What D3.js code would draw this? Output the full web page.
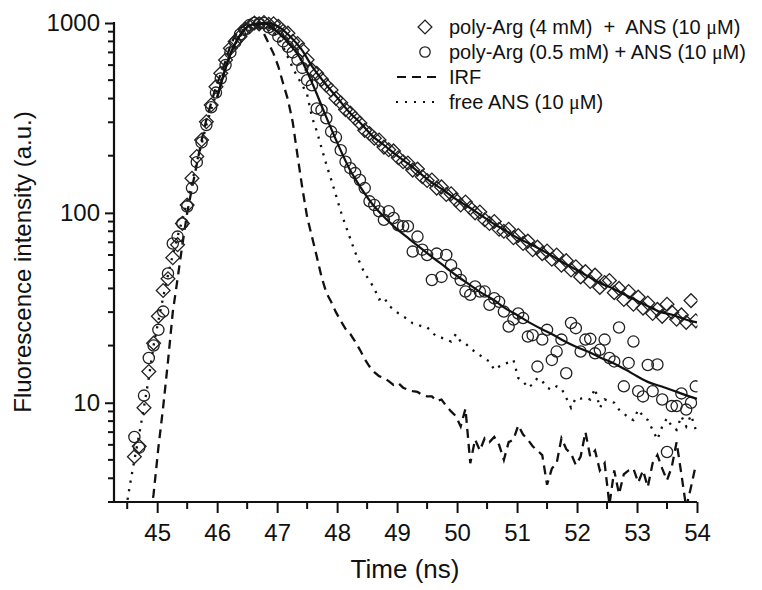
<!DOCTYPE html>
<html><head><meta charset="utf-8">
<script src="https://cdn.jsdelivr.net/npm/d3@7"></script>
<style>body{margin:0;background:#fff}svg{display:block}text{font-family:"Liberation Sans",Arial,sans-serif;fill:#111}</style>
</head><body><svg id="c" width="762" height="590"></svg>
<script>
// channel times (ns)
const timeNs = [44.46,44.54,44.62,44.70,44.78,44.86,44.94,45.02,45.10,45.18,45.26,45.34,45.42,45.50,45.58,45.66,45.74,45.82,45.90,45.98,
46.06,46.14,46.22,46.30,46.38,46.46,46.54,46.62,46.70,46.78,46.86,46.94,47.02,47.10,47.18,47.26,47.34,47.42,47.50,47.58,
47.66,47.74,47.82,47.90,47.98,48.06,48.14,48.22,48.30,48.38,48.46,48.54,48.62,48.70,48.78,48.86,48.94,49.02,49.10,49.18,
49.26,49.34,49.42,49.50,49.58,49.66,49.74,49.82,49.90,49.98,50.06,50.14,50.22,50.30,50.38,50.46,50.54,50.62,50.70,50.78,
50.86,50.94,51.02,51.10,51.18,51.26,51.34,51.42,51.50,51.58,51.66,51.74,51.82,51.90,51.98,52.06,52.14,52.22,52.30,52.38,
52.46,52.54,52.62,52.70,52.78,52.86,52.94,53.02,53.10,53.18,53.26,53.34,53.42,53.50,53.58,53.66,53.74,53.82,53.90,53.98];

// poly-Arg (4 mM) + ANS : diamonds
const polyArg4 = [null,null,5.2,5.9,9.4,14.6,20.6,28.5,39,45,58,68,88,110,152,198,242,302,370,462,
543,638,736,800,848,930,956,1000,990,1005,985,990,960,905,884,800,780,720,640,566,
543,505,470,444,401,380,350,335,315,297,272,262,247,242,222,215,212,195,186,183,
168,170,155,148,149,135,137,125,126,117,110,114,106,100,101,92,88,90,82,80,
82,74,76,69,71,64,66,61,63,57,60,53,56,50,52,46,49,43.5,47,40.5,
43,44,38,40,35,38.5,33,36,31.5,33.5,29.5,31,28.5,33,30,27.5,29,26.5,34.5,27];

// poly-Arg (0.5 mM) + ANS : circles
const polyArg05 = [null,null,6.6,5.8,10.9,17.2,20,24.2,30.2,48,69,75,88,108,135,185,235,290,360,430,
510,600,700,790,870,920,975,1000,995,1000,950,920,850,800,750,700,640,580,500,470,
355,348,315,268,250,214,186,172,162,149,135,115,110,102,92,102,94,86,85,85,
62.5,75,64,60,44.3,61,46,60,53,48,44.3,38.5,37,41,38.5,38.5,32.8,35.5,34,30.2,
25.2,27.4,29.5,27.9,22.3,22.7,15.5,21.5,24.2,16.8,18.6,21.5,14.3,26.3,24.7,18.6,21.5,21.7,18.2,19.0,
21.5,17.2,16.5,24.9,12.2,16.2,21,11.5,10.8,15.8,11.5,15.9,10.4,5.5,9.6,9.6,11.2,9.2,10,12.2];

// instrument response function (dashed)
const irf = [null,null,null,null,null,2.2,3.3,5.8,9.5,16.5,30,45,68,100,135,180,240,310,380,460,
540,630,760,860,935,975,1000,990,950,880,780,690,590,480,395,300,200,135,95,75,
59,46,38,34,30,27,24.5,23,21,19,17,15.5,14.5,13.8,13.5,13.0,12.4,12.7,12.0,11.7,
11.5,11.4,11.0,10.8,10.8,10.2,10.4,9.6,9.0,8.5,7.5,9.3,4.8,6.4,5.6,6.5,6.2,6.6,6.0,5.0,
6.2,6.4,7.6,6.8,6.4,5.9,5.6,5.3,3.7,4.5,4.8,6.5,5.7,5.4,4.7,5.2,7.0,5.2,5.6,4.4,
4.8,2.9,4.4,3.3,4.2,4.4,4.5,3.8,4.4,3.6,4.8,5.3,4.5,3.9,4.6,6.2,4.2,2.8,3.6,4.7];

// free ANS (dotted)
const freeANS = [2.5,3.6,5.0,6.8,9.5,13.5,20,27,36,47,60,75,92,115,145,185,230,290,350,420,
500,590,680,770,850,920,970,995,1000,985,950,900,830,750,660,580,520,470,420,320,
270,220,180,150,124,102,86,73,62,54.5,48,44,40,35,36,32.5,31,29.6,28.5,27.5,
26.2,25.8,25.2,25.0,23.5,22.3,22.0,21.5,21,23,21,20.5,19.4,18.5,17.8,17.0,16.5,14.9,15.5,16.0,
16.3,16.8,13.5,13.0,12.0,12.5,13.5,13.0,12.0,11.7,12.2,11.9,10.6,9.4,10.6,10.5,10.6,10.4,11.9,9.4,
10.4,10.2,10.0,9.2,8.8,8.3,8.1,9.2,8.5,8.1,7.2,6.4,7.5,8.3,7.5,7.2,8.5,7.5,8.6,7.2];

// fitted curves
const fitTime = [46.0,46.2,46.4,46.6,46.8,47.0,47.2,47.4,47.6,47.8,48.0,48.2,48.4,48.6,48.8,49.0,49.2,49.4,49.6,49.8,
50.0,50.2,50.4,50.6,50.8,51.0,51.2,51.4,51.6,51.8,52.0,52.2,52.4,52.6,52.8,53.0,53.2,53.4,53.6,53.8,54.0];
const fit4 = [405,660,880,985,1000,965,860,730,580,480,405,340,295,252,225,200,180,160,143,130,
117,107,97,88,81,74,69,64,59,54,50,46,42.5,40,37,34.5,32,30,29,27.5,26.5];
const fit05 = [405,660,880,985,990,900,780,640,470,330,235,172,135,110,94,82,73,65,58,52,
46.5,42,38,35,31.5,29,26.5,24.5,22.8,21,19.6,18.5,17.2,16.2,15,13.8,12.8,12.2,11.6,11,10.5];

const xTicks = [45,46,47,48,49,50,51,52,53,54];
const yTicks = [10,100,1000];
const legendLabels = ["poly-Arg (4 mM)  +  ANS (10 ", "poly-Arg (0.5 mM) + ANS (10 ", "IRF", "free ANS (10 "];

const svg = d3.select("#c");
const L=114, R=697, T=23, B=502;
const x = d3.scaleLinear().domain([44.28,54]).range([L,R]);
const y = d3.scaleLog().domain([3,1000]).range([B,T]);

svg.append("defs").append("clipPath").attr("id","clip")
  .append("rect").attr("x",L).attr("y",0).attr("width",R-L+0.5).attr("height",B);
const plot = svg.append("g").attr("clip-path","url(#clip)");

const line = (vals, tt) => d3.line()
  .defined((d,i)=>vals[i]!=null)
  .x((d,i)=>x(tt[i])).y((d,i)=>y(Math.max(vals[i],1)))(vals);

plot.append("path").attr("d",line(irf,timeNs)).attr("fill","none").attr("stroke","#111")
  .attr("stroke-width",2.3).attr("stroke-dasharray","9,6");
plot.append("path").attr("d",line(freeANS,timeNs)).attr("fill","none").attr("stroke","#111")
  .attr("stroke-width",2.3).attr("stroke-dasharray","2.2,6.5");

const diamond = d3.symbol().type(d3.symbolSquare).size(95)();
plot.append("g").selectAll("path").data(polyArg4.map((v,i)=>[timeNs[i],v]).filter(d=>d[1]!=null))
  .join("path").attr("d",diamond)
  .attr("transform",d=>`translate(${x(d[0])},${y(d[1])}) rotate(45)`)
  .attr("fill","none").attr("stroke","#222").attr("stroke-width",1.3);
plot.append("g").selectAll("circle").data(polyArg05.map((v,i)=>[timeNs[i],v]).filter(d=>d[1]!=null))
  .join("circle").attr("cx",d=>x(d[0])).attr("cy",d=>y(d[1])).attr("r",5.6)
  .attr("fill","none").attr("stroke","#222").attr("stroke-width",1.3);

const fitLine = vals => d3.line().curve(d3.curveMonotoneX)
  .x((d,i)=>x(fitTime[i])).y((d,i)=>y(vals[i]))(vals);
plot.append("path").attr("d",fitLine(fit4)).attr("fill","none").attr("stroke","#111").attr("stroke-width",2.2);
plot.append("path").attr("d",fitLine(fit05)).attr("fill","none").attr("stroke","#111").attr("stroke-width",2.2);

// axes
const xMinor = d3.range(44.5,54,1);
const gx = svg.append("g").attr("transform",`translate(0,${B})`);
gx.call(d3.axisBottom(x).tickValues(xTicks).tickSize(11).tickPadding(6).tickFormat(d3.format("d")));
xMinor.forEach(v=>gx.append("line").attr("x1",x(v)).attr("x2",x(v)).attr("y1",0).attr("y2",7).attr("stroke","#111").attr("stroke-width",2));
gx.select(".domain").attr("d",`M${L},0H${R}`).attr("stroke-width",2.2);
gx.selectAll(".tick line").attr("stroke-width",2);
gx.selectAll(".tick text").attr("font-size",24).attr("dy","0.9em");

const yMinor = [];
[1,10,100].forEach(dec=>{for(let k=2;k<=9;k++){const v=k*dec; if(v>=3&&v<1000) yMinor.push(v);}});
const gy = svg.append("g").attr("transform",`translate(${L},0)`);
gy.call(d3.axisLeft(y).tickValues(yTicks).tickSize(9).tickPadding(5).tickFormat(d3.format("d")));
yMinor.forEach(v=>gy.append("line").attr("x1",0).attr("x2",-6).attr("y1",y(v)).attr("y2",y(v)).attr("stroke","#111").attr("stroke-width",2));
gy.select(".domain").attr("d",`M0,${T-1}V${B}`).attr("stroke-width",2.2);
gy.selectAll(".tick line").attr("stroke-width",2);
gy.selectAll(".tick text").attr("font-size",24);
svg.selectAll(".domain").attr("stroke","#111");
svg.selectAll(".tick line").attr("stroke","#111");

svg.append("text").attr("x",405).attr("y",578).attr("text-anchor","middle").attr("font-size",26).text("Time (ns)");
svg.append("text").attr("transform","translate(31,262) rotate(-90)").attr("text-anchor","middle").attr("font-size",24)
  .text("Fluorescence intensity (a.u.)");

// legend
const lg = svg.append("g");
const ly = [27,52,77,102];
lg.append("path").attr("d",diamond).attr("transform",`translate(425,${ly[0]}) rotate(45)`).attr("fill","none").attr("stroke","#222").attr("stroke-width",1.3);
lg.append("circle").attr("cx",425).attr("cy",ly[1]).attr("r",5.2).attr("fill","none").attr("stroke","#222").attr("stroke-width",1.3);
lg.append("line").attr("x1",397).attr("x2",440).attr("y1",ly[2]).attr("y2",ly[2]).attr("stroke","#111").attr("stroke-width",2.2).attr("stroke-dasharray","9,6");
lg.append("line").attr("x1",396).attr("x2",440).attr("y1",ly[3]).attr("y2",ly[3]).attr("stroke","#111").attr("stroke-width",2).attr("stroke-dasharray","2,7");
legendLabels.forEach((t,i)=>{
  const tx = lg.append("text").attr("x",449).attr("y",ly[i]+7).attr("font-size",20).style("white-space","pre");
  tx.append("tspan").text(t);
  if (i!==2){
    tx.append("tspan").attr("font-family","'Liberation Serif','Times New Roman',serif").text("\u03bc");
    tx.append("tspan").text("M)");
  }
});
</script></body></html>
